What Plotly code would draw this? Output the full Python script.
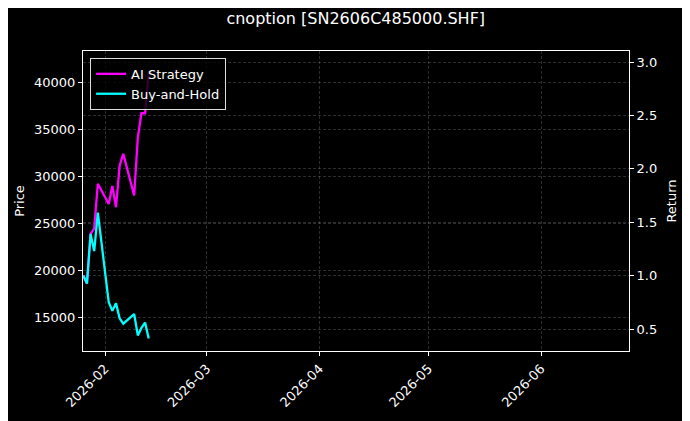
import plotly.graph_objects as go

dates = ["2026-01-26", "2026-01-27", "2026-01-28", "2026-01-29", "2026-01-30",
         "2026-02-02", "2026-02-03", "2026-02-04", "2026-02-05", "2026-02-06",
         "2026-02-09", "2026-02-10", "2026-02-11", "2026-02-12", "2026-02-13"]
ai_strategy = [1.00, 0.925, 1.39, 1.44, 1.86, 1.67, 1.84, 1.64, 2.03, 2.14,
               1.75, 2.29, 2.52, 2.52, 2.90]
buy_and_hold = [1.00, 0.925, 1.39, 1.23, 1.59, 0.75, 0.67, 0.74, 0.60, 0.55,
                0.64, 0.44, 0.51, 0.56, 0.41]
price = [19500, 18000, 27100, 24000, 31000, 14600, 13100, 14400, 11700, 10700,
         12500, 8600, 9900, 10900, 8000]

title = "cnoption [SN2606C485000.SHF]"
price_range = [11383, 43298]
return_range = [0.294, 3.103]
x_range = ["2026-01-25 22:00", "2026-06-25 05:00"]

font_family = "DejaVu Sans, sans-serif"
grid_col = "rgba(140,140,140,0.32)"

fig = go.Figure()
fig.add_trace(go.Scatter(x=dates, y=price, mode="lines", name="Price",
                         line=dict(color="rgba(0,0,0,0)", width=0),
                         showlegend=False, hoverinfo="skip", yaxis="y"))
fig.add_trace(go.Scatter(x=dates, y=ai_strategy, mode="lines", name="AI Strategy",
                         line=dict(color="#ff00ff", width=2.3), yaxis="y2"))
fig.add_trace(go.Scatter(x=dates, y=buy_and_hold, mode="lines", name="Buy-and-Hold",
                         line=dict(color="#00ffff", width=2.3), yaxis="y2"))

axis_common = dict(showline=True, linecolor="white", linewidth=1, ticks="outside",
                   ticklen=4, tickcolor="white", tickfont=dict(color="white", size=13),
                   showgrid=True, gridcolor=grid_col, gridwidth=0.5, griddash="3px,2px",
                   zeroline=False, automargin=False)

fig.update_layout(
    width=690, height=421,
    paper_bgcolor="black", plot_bgcolor="black",
    font=dict(family=font_family, color="white", size=13),
    margin=dict(l=75, r=69, t=43, b=78, autoexpand=False),
    title=dict(text=title, x=0.504, xanchor="center", y=0.976, yanchor="middle",
               font=dict(size=16, color="white")),
    xaxis=dict(type="date", range=x_range, tickformat="%Y-%m", dtick="M1",
               tick0="2026-02-01", tickangle=-45, mirror=True, **axis_common),
    yaxis=dict(range=price_range, dtick=5000, tick0=15000, tickformat="d",
               title=dict(text="Price", font=dict(size=13, color="white"), standoff=6),
               **axis_common),
    yaxis2=dict(range=return_range, dtick=0.5, tick0=0.5, tickformat=".1f",
                overlaying="y", side="right",
                title=dict(text="Return", font=dict(size=13, color="white"), standoff=10),
                **axis_common),
    legend=dict(x=0.013, y=0.977, xanchor="left", yanchor="top",
                bgcolor="rgba(0,0,0,0.8)", bordercolor="#dddddd", borderwidth=1,
                font=dict(size=13, color="white")),
    showlegend=True,
)

fig.write_html("out.html")
